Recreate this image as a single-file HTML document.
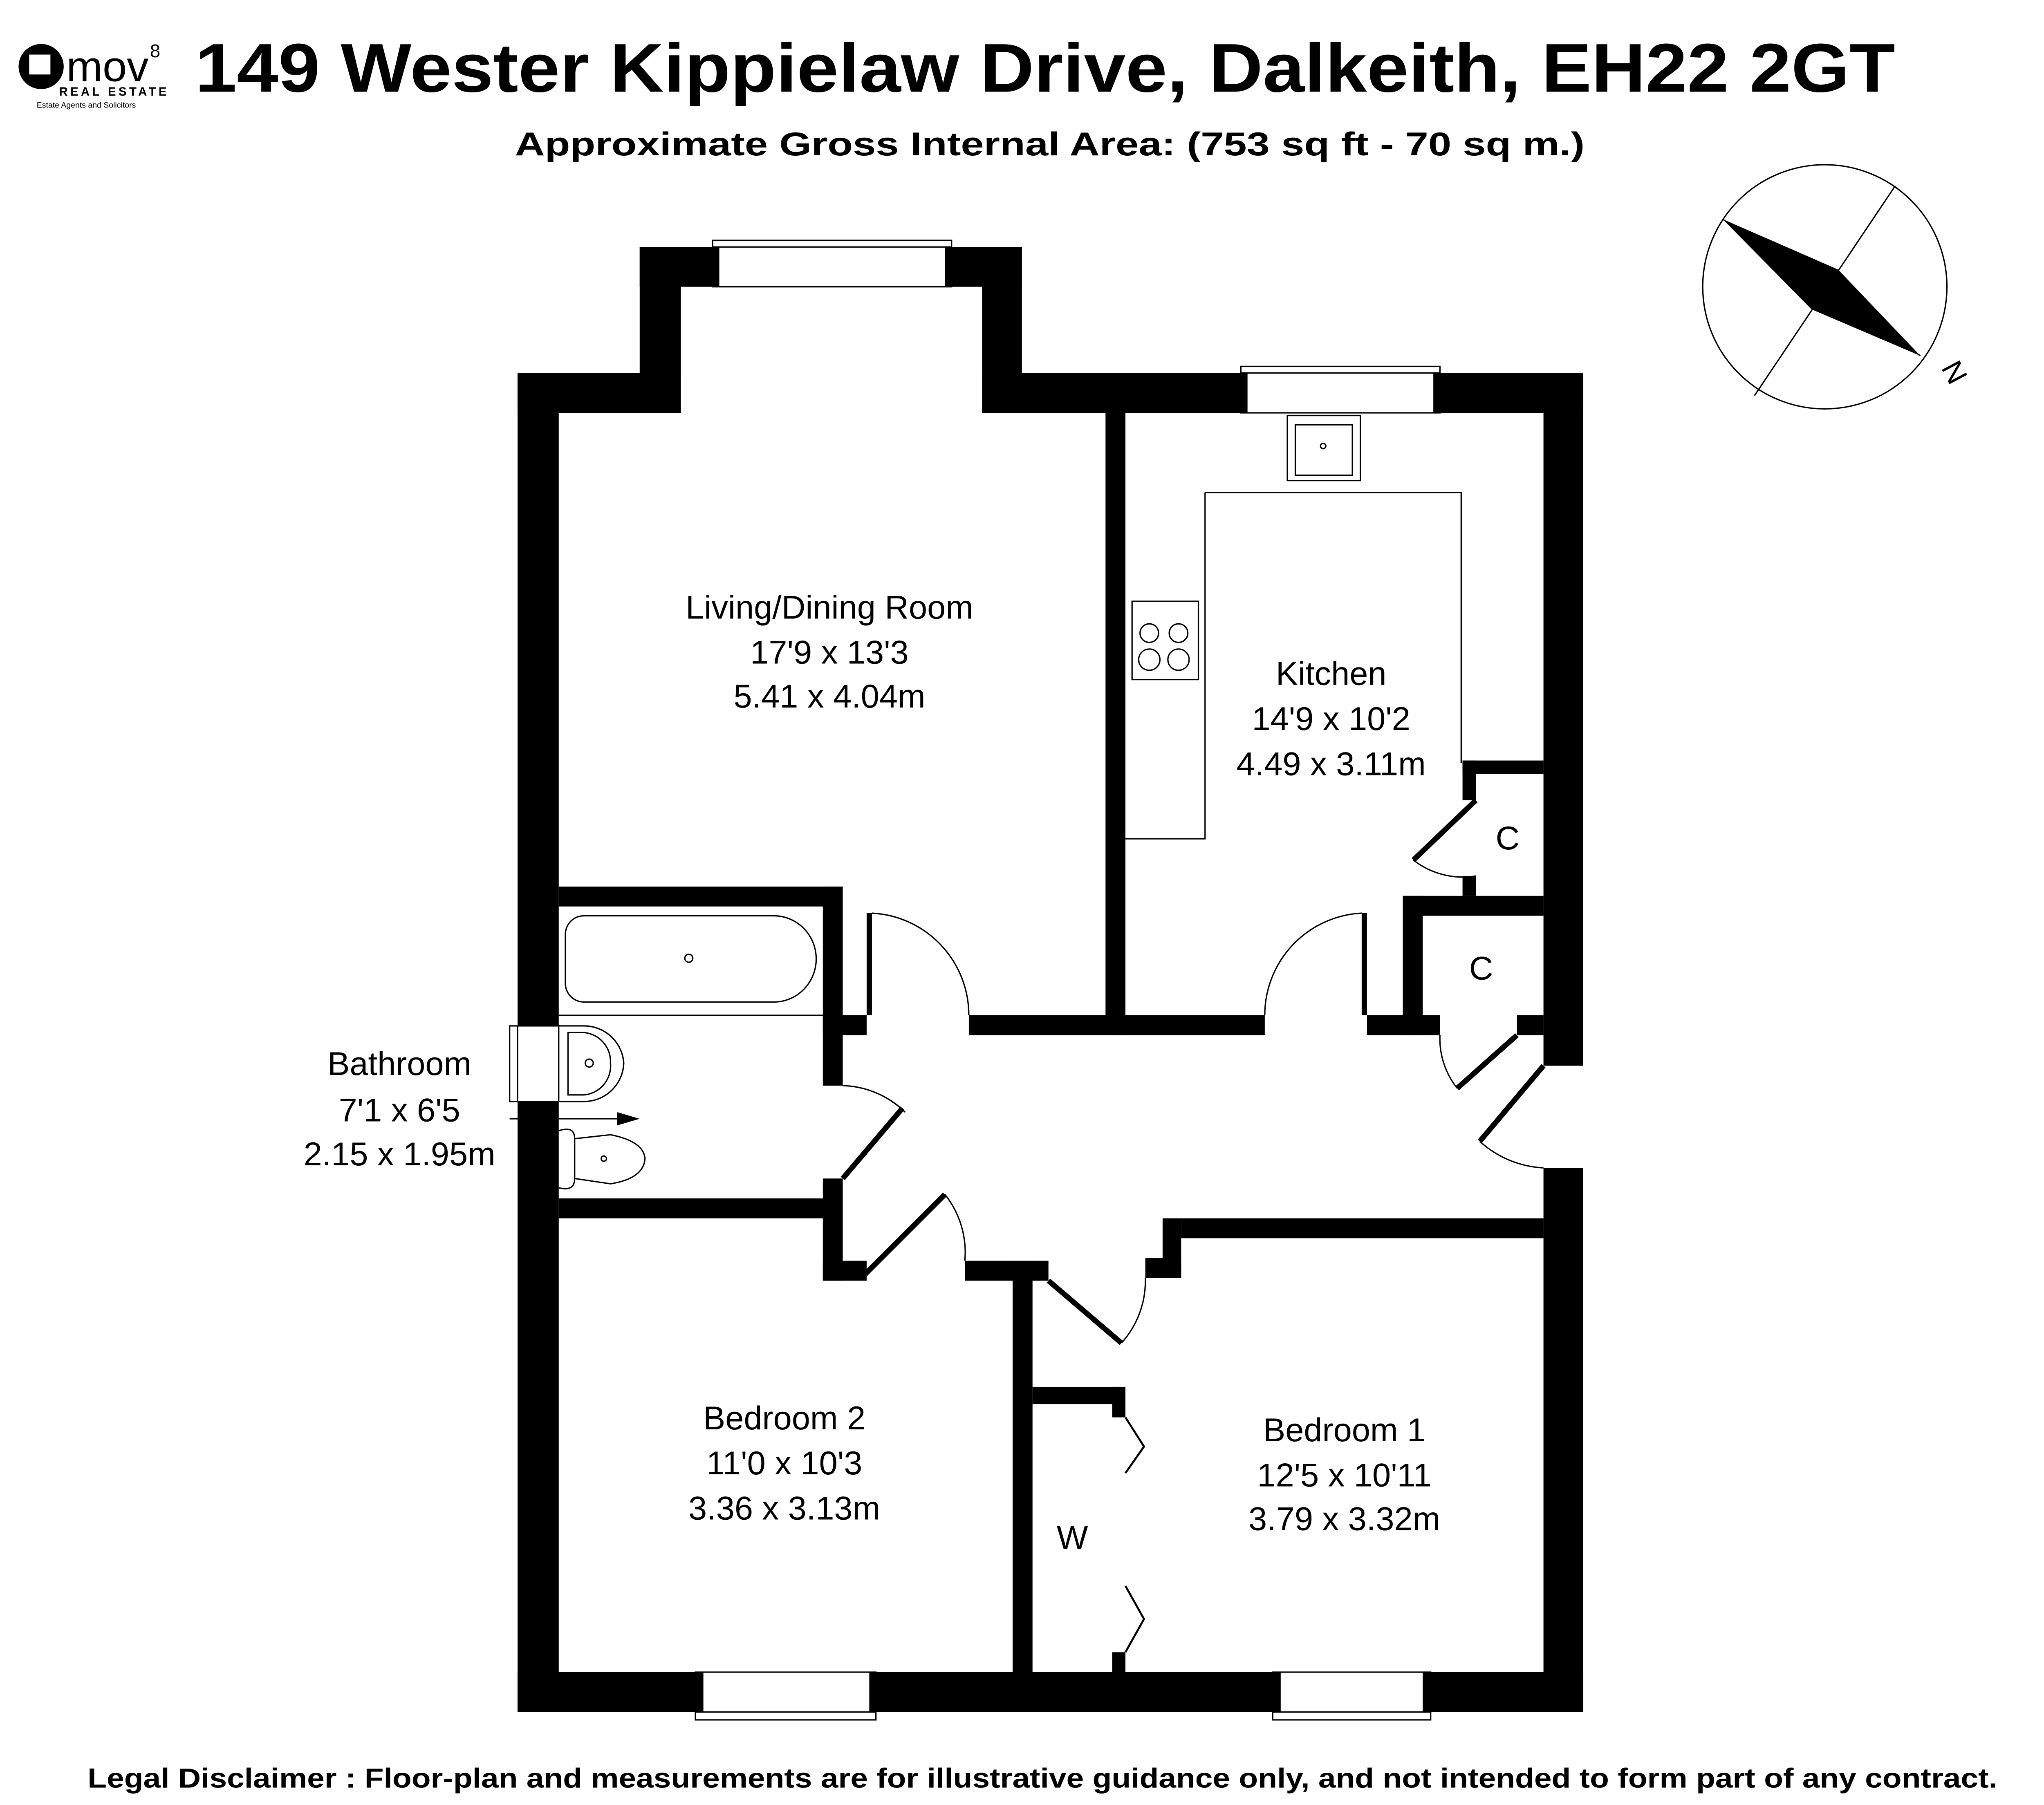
<!DOCTYPE html>
<html><head><meta charset="utf-8"><style>
html,body{margin:0;padding:0;background:#fff;}
svg{display:block;}
text{font-family:"Liberation Sans",Arial,sans-serif;fill:#000;}
</style></head><body>
<svg width="5032" height="4416" viewBox="0 0 1550 1360" xmlns="http://www.w3.org/2000/svg">
<rect width="1550" height="1360" fill="#fff"/>
<!-- logo -->
<circle cx="31" cy="50" r="17" fill="#000"/>
<rect x="22" y="41" width="16" height="15" fill="#fff"/>
<text x="50" y="61" font-size="32" fill="#222" textLength="62" lengthAdjust="spacingAndGlyphs">mov</text>
<text x="113" y="43" font-size="14">8</text>
<text x="86" y="72" font-size="9" font-weight="bold" letter-spacing="2" text-anchor="middle">REAL ESTATE</text>
<text x="65" y="81" font-size="6" text-anchor="middle">Estate Agents and Solicitors</text>
<!-- titles -->
<text x="147" y="69" font-size="52" font-weight="bold" textLength="1281" lengthAdjust="spacingAndGlyphs">149 Wester Kippielaw Drive, Dalkeith, EH22 2GT</text>
<text x="791" y="117" font-size="25" font-weight="bold" text-anchor="middle" textLength="806" lengthAdjust="spacingAndGlyphs">Approximate Gross Internal Area: (753 sq ft - 70 sq m.)</text>
<text x="66" y="1347" font-size="21" font-weight="bold" textLength="1439" lengthAdjust="spacingAndGlyphs">Legal Disclaimer : Floor-plan and measurements are for illustrative guidance only, and not intended to form part of any contract.</text>
<!-- compass -->
<circle cx="1375" cy="216" r="92" fill="none" stroke="#000" stroke-width="1"/>
<line x1="1428" y1="140" x2="1322" y2="298" stroke="#000" stroke-width="1"/>
<line x1="1298" y1="165" x2="1447" y2="268" stroke="#000" stroke-width="1"/>
<polygon points="1298,165 1385,203 1447,268 1365,233" fill="#000"/>
<text x="1466" y="284" font-size="22" transform="rotate(62 1466 284)" text-anchor="middle">N</text>
<!-- walls -->
<g fill="#000">
<rect x="482" y="186" width="60" height="30"/>
<rect x="712" y="186" width="58" height="30"/>
<rect x="482" y="186" width="31" height="125"/>
<rect x="740" y="186" width="30" height="125"/>
<rect x="390" y="281" width="123" height="30"/>
<rect x="740" y="281" width="200" height="30"/>
<rect x="1080" y="281" width="113" height="30"/>
<rect x="1163" y="281" width="30" height="522"/>
<rect x="1163" y="880" width="30" height="410"/>
<rect x="390" y="281" width="31" height="492"/>
<rect x="390" y="830" width="31" height="460"/>
<rect x="390" y="1260" width="140" height="30"/>
<rect x="655" y="1260" width="310" height="30"/>
<rect x="1072" y="1260" width="121" height="30"/>
<rect x="833" y="311" width="15" height="469"/>
<rect x="421" y="668" width="214" height="15"/>
<rect x="620" y="668" width="15" height="150"/>
<rect x="620" y="765" width="33" height="15"/>
<rect x="620" y="888" width="15" height="77"/>
<rect x="421" y="903" width="214" height="15"/>
<rect x="620" y="950" width="33" height="15"/>
<rect x="730" y="765" width="223" height="15"/>
<rect x="1030" y="765" width="55" height="15"/>
<rect x="1143" y="765" width="20" height="15"/>
<rect x="1057" y="675" width="15" height="105"/>
<rect x="1057" y="675" width="106" height="15"/>
<rect x="1102" y="573" width="61" height="10"/>
<rect x="1102" y="573" width="10" height="30"/>
<rect x="1102" y="660" width="10" height="15"/>
<rect x="890" y="918" width="273" height="15"/>
<rect x="876" y="918" width="14" height="45"/>
<rect x="863" y="948" width="27" height="15"/>
<rect x="727" y="950" width="63" height="15"/>
<rect x="763" y="950" width="15" height="310"/>
<rect x="778" y="1045" width="70" height="13"/>
<rect x="838" y="1045" width="10" height="23"/>
<rect x="838" y="1245" width="10" height="15"/>
</g>
<!-- windows -->
<g fill="none" stroke="#000" stroke-width="1">
<rect x="537" y="181" width="180" height="35"/><line x1="537" y1="186" x2="717" y2="186"/>
<rect x="935" y="276" width="150" height="35"/><line x1="935" y1="281" x2="1085" y2="281"/>
<rect x="384" y="773" width="37" height="57"/><line x1="390" y1="773" x2="390" y2="830"/>
<rect x="524" y="1260" width="136" height="36"/><line x1="524" y1="1290" x2="660" y2="1290"/>
<rect x="959" y="1260" width="119" height="36"/><line x1="959" y1="1290" x2="1078" y2="1290"/>
</g>
<!-- doors -->
<g fill="none" stroke="#000" stroke-width="1">
<path d="M657,688 A77,77 0 0 1 730,765"/>
<path d="M953,765 A77,77 0 0 1 1026,688"/>
<path d="M635,818 A70,70 0 0 1 682,838"/>
<path d="M712,900 A70,70 0 0 1 727,950"/>
<path d="M845,1012 A70,70 0 0 0 863,963"/>
<path d="M1065,648 A60,60 0 0 0 1112,660"/>
<path d="M1085,780 A60,60 0 0 0 1098,820"/>
<path d="M1115,860 A77,77 0 0 0 1163,880"/>
<path d="M908,371 H1101 V575 M908,371 V632 H848"/>
</g>
<g stroke="#000" stroke-width="4" fill="none">
<line x1="655" y1="688" x2="655" y2="765"/>
<line x1="1028" y1="688" x2="1028" y2="765"/>
<line x1="635" y1="888" x2="680" y2="835"/>
<line x1="652" y1="960" x2="712" y2="900"/>
<line x1="790" y1="965" x2="845" y2="1012"/>
<line x1="1112" y1="603" x2="1065" y2="648"/>
<line x1="1143" y1="780" x2="1098" y2="820"/>
<line x1="1163" y1="803" x2="1115" y2="860"/>
</g>
<g stroke="#000" stroke-width="1.5" fill="none">
<polyline points="848,1068 862,1090 848,1110"/>
<polyline points="848,1195 862,1220 848,1245"/>
</g>
<!-- fixtures -->
<g fill="none" stroke="#000" stroke-width="1">
<rect x="970" y="313" width="55" height="49"/>
<rect x="976" y="320" width="43" height="38"/>
<circle cx="997" cy="336" r="2"/>
<rect x="853" y="453" width="50" height="59"/>
<circle cx="866" cy="477" r="7"/><circle cx="888" cy="477" r="7"/>
<circle cx="866" cy="497" r="8"/><circle cx="888" cy="497" r="8"/>
<path d="M440,690 H583 A32,32.5 0 0 1 583,755 H440 A14,14 0 0 1 426,741 V704 A14,14 0 0 1 440,690 Z"/>
<line x1="421" y1="765" x2="620" y2="765"/>
<circle cx="519" cy="722" r="3"/>
<path d="M421,773 H440 A30,30 0 0 1 470,801 A30,30 0 0 1 440,830 H421"/>
<path d="M428,778 H440 A22,22 0 0 1 460,801 A22,22 0 0 1 440,825 H428 Z"/>
<circle cx="444" cy="801" r="3"/>
<path d="M421,852 Q433,848 433,858 V888 Q433,898 421,895"/>
<path d="M433,858 L460,855 Q485,860 486,873 Q485,888 460,892 L433,888"/>
<circle cx="455" cy="873" r="2"/>
<line x1="384" y1="843" x2="468" y2="843"/>
</g>
<polygon points="465,838 482,843 465,848" fill="#000"/>
<!-- labels -->
<g font-size="25" text-anchor="middle">
<text x="625" y="466">Living/Dining Room</text>
<text x="625" y="500">17'9 x 13'3</text>
<text x="625" y="533">5.41 x 4.04m</text>
<text x="1003" y="516">Kitchen</text>
<text x="1003" y="550">14'9 x 10'2</text>
<text x="1003" y="584">4.49 x 3.11m</text>
<text x="301" y="810">Bathroom</text>
<text x="301" y="845">7'1 x 6'5</text>
<text x="301" y="878">2.15 x 1.95m</text>
<text x="591" y="1077">Bedroom 2</text>
<text x="591" y="1111">11'0 x 10'3</text>
<text x="591" y="1145">3.36 x 3.13m</text>
<text x="1013" y="1086">Bedroom 1</text>
<text x="1013" y="1120">12'5 x 10'11</text>
<text x="1013" y="1153">3.79 x 3.32m</text>
<text x="1136" y="640">C</text>
<text x="1116" y="738">C</text>
<text x="808" y="1167">W</text>
</g>
</svg>
</body></html>
